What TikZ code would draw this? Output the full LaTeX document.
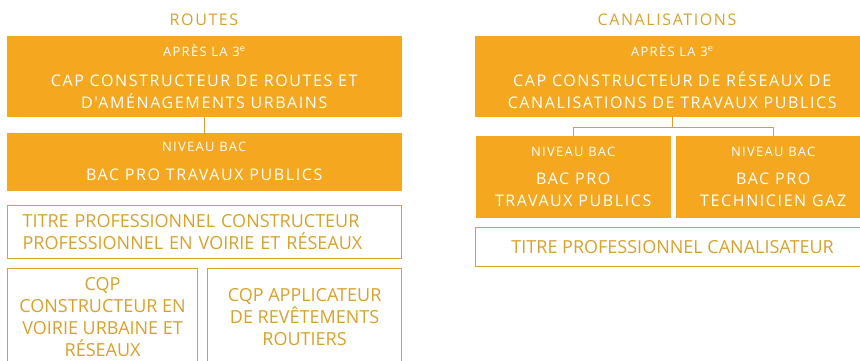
\documentclass[tikz,border=0pt]{standalone}
\usepackage{fontspec}
\setmainfont{Open Sans}
\newfontfamily\spacedfont[LetterSpace=10]{Open Sans}
\definecolor{capOrange}{HTML}{F5A81F}
\definecolor{gold}{HTML}{D9A12B}
\newcommand{\smalltag}[1]{{\fontsize{13}{15}\selectfont #1}}

\begin{document}
\begin{tikzpicture}[x=1pt, y=-1pt,
  filled/.style={fill=capOrange, draw=capOrange, text=white, align=center, inner sep=0pt, anchor=north west,
    font=\spacedfont\fontsize{16}{22}\selectfont},
  outlined/.style={draw=gold, line width=1.2pt, text=gold, inner sep=0pt, anchor=north west,
    font=\fontsize{18}{22}\selectfont},
  heading/.style={text=gold, font=\spacedfont\fontsize{16}{20}\selectfont},
  link/.style={draw=gold, line width=0.8pt}]
  \useasboundingbox (0,0) rectangle (860,361);
  % titles
  \node[heading] (routes) at (204,20) {ROUTES};
  \node[heading] (canal) at (667,20) {CANALISATIONS};
  % routes
  \node[filled, minimum width=394pt, minimum height=80pt] (capRoutes) at (7,36)
    {\smalltag{APRÈS LA 3\textsuperscript{e}}\\[8pt] CAP CONSTRUCTEUR DE ROUTES ET\\ D'AMÉNAGEMENTS URBAINS};
  \node[filled, minimum width=394pt, minimum height=57pt] (bacRoutes) at (7,133)
    {\smalltag{NIVEAU BAC}\\[7pt] BAC PRO TRAVAUX PUBLICS};
  \node[outlined, minimum width=394pt, minimum height=53pt, text width=364pt, inner xsep=15pt, align=left] (titreRoutes) at (7,205)
    {TITRE PROFESSIONNEL CONSTRUCTEUR\\ PROFESSIONNEL EN VOIRIE ET RÉSEAUX};
  \node[outlined, minimum width=190pt, minimum height=97pt, align=center] (cqpVoirie) at (7,268)
    {CQP\\ CONSTRUCTEUR EN\\ VOIRIE URBAINE ET\\ RÉSEAUX};
  \node[outlined, minimum width=194pt, minimum height=97pt, align=center] (cqpRevet) at (207,268)
    {CQP APPLICATEUR\\ DE REVÊTEMENTS\\ ROUTIERS};
  \draw[link] (capRoutes.south) -- (bacRoutes.north);
  % canalisations
  \node[filled, minimum width=394pt, minimum height=80pt] (capCanal) at (475,36)
    {\smalltag{APRÈS LA 3\textsuperscript{e}}\\[8pt] CAP CONSTRUCTEUR DE RÉSEAUX DE\\ CANALISATIONS DE TRAVAUX PUBLICS};
  \node[filled, minimum width=194pt, minimum height=81pt] (bacTP) at (476,136)
    {\smalltag{NIVEAU BAC}\\[6pt] BAC PRO\\ TRAVAUX PUBLICS};
  \node[filled, minimum width=194pt, minimum height=81pt] (bacGaz) at (676,136)
    {\smalltag{NIVEAU BAC}\\[6pt] BAC PRO\\ TECHNICIEN GAZ};
  \node[outlined, minimum width=394pt, minimum height=39pt, align=center] (titreCanal) at (475,227)
    {TITRE PROFESSIONNEL CANALISATEUR};
  \draw[link] (capCanal.south) -- ++(0,11) coordinate (fork) -| (bacTP.north);
  \draw[link] (fork) -| (bacGaz.north);
\end{tikzpicture}
\end{document}
